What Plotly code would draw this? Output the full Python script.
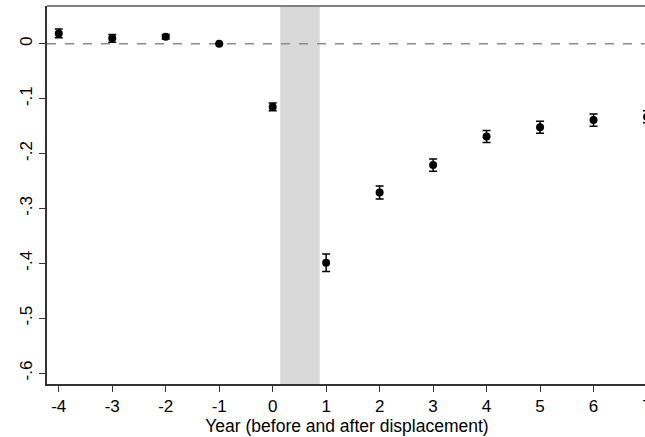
import plotly.graph_objects as go

years = [-4, -3, -2, -1, 0, 1, 2, 3, 4, 5, 6, 7]
coef = [0.019, 0.010, 0.013, 0.0, -0.115, -0.399, -0.271, -0.221, -0.169, -0.152, -0.139, -0.133]
err = [0.008, 0.007, 0.004, 0.0, 0.007, 0.016, 0.012, 0.011, 0.011, 0.011, 0.011, 0.011]

x_ticks = [-4, -3, -2, -1, 0, 1, 2, 3, 4, 5, 6, 7]
x_ticktext = ["-4", "-3", "-2", "-1", "0", "1", "2", "3", "4", "5", "6", "7"]
y_ticks = [0, -0.1, -0.2, -0.3, -0.4, -0.5, -0.6]
y_ticktext = ["0", "-.1", "-.2", "-.3", "-.4", "-.5", "-.6"]

shade_start, shade_end = 0.14, 0.88

fig = go.Figure()

# displacement year shading
fig.add_vrect(x0=shade_start, x1=shade_end, fillcolor="#d9d9d9", line_width=0, layer="below")

# reference line at zero
fig.add_hline(y=0, line=dict(color="#8c8c8c", width=1.5, dash="dash"), layer="below")

fig.add_trace(go.Scatter(
    x=years,
    y=coef,
    mode="markers",
    marker=dict(size=8, color="black"),
    error_y=dict(type="data", array=err, visible=True, color="black", thickness=1.5, width=4),
    showlegend=False,
    cliponaxis=False,
))

# top frame line
fig.add_shape(type="line", xref="paper", yref="paper", x0=0, x1=1, y0=1, y1=1,
              line=dict(color="#7f7f7f", width=2))

fig.update_xaxes(
    range=[-4.22, 7.0],
    tickvals=x_ticks, ticktext=x_ticktext,
    ticklabeloverflow="allow",
    showline=True, linecolor="#333333", linewidth=1.5,
    ticks="outside", ticklen=6, tickcolor="#333333", tickwidth=1.2,
    showgrid=False, zeroline=False,
    tickfont=dict(size=17, color="black", family="Liberation Sans"),
    title=dict(text="Year (before and after displacement)", standoff=0,
               font=dict(size=17.5, color="black", family="Liberation Sans")),
)
fig.update_yaxes(
    range=[-0.62, 0.069],
    tickvals=y_ticks, ticktext=y_ticktext, tickangle=-90,
    showline=True, linecolor="#333333", linewidth=1.5,
    ticks="outside", ticklen=6, tickcolor="#333333", tickwidth=1.2,
    showgrid=False, zeroline=False,
    tickfont=dict(size=17, color="black", family="Liberation Sans"),
)

# a little wider than the window so the last tick sits on the cropped edge
fig.update_layout(
    width=652, height=437,
    margin=dict(l=47, r=0, t=6, b=53),
    plot_bgcolor="white", paper_bgcolor="white",
)

fig.write_html("out.html", config={"displayModeBar": False},
               post_script="document.body.style.margin='0';document.body.style.overflow='hidden';")
